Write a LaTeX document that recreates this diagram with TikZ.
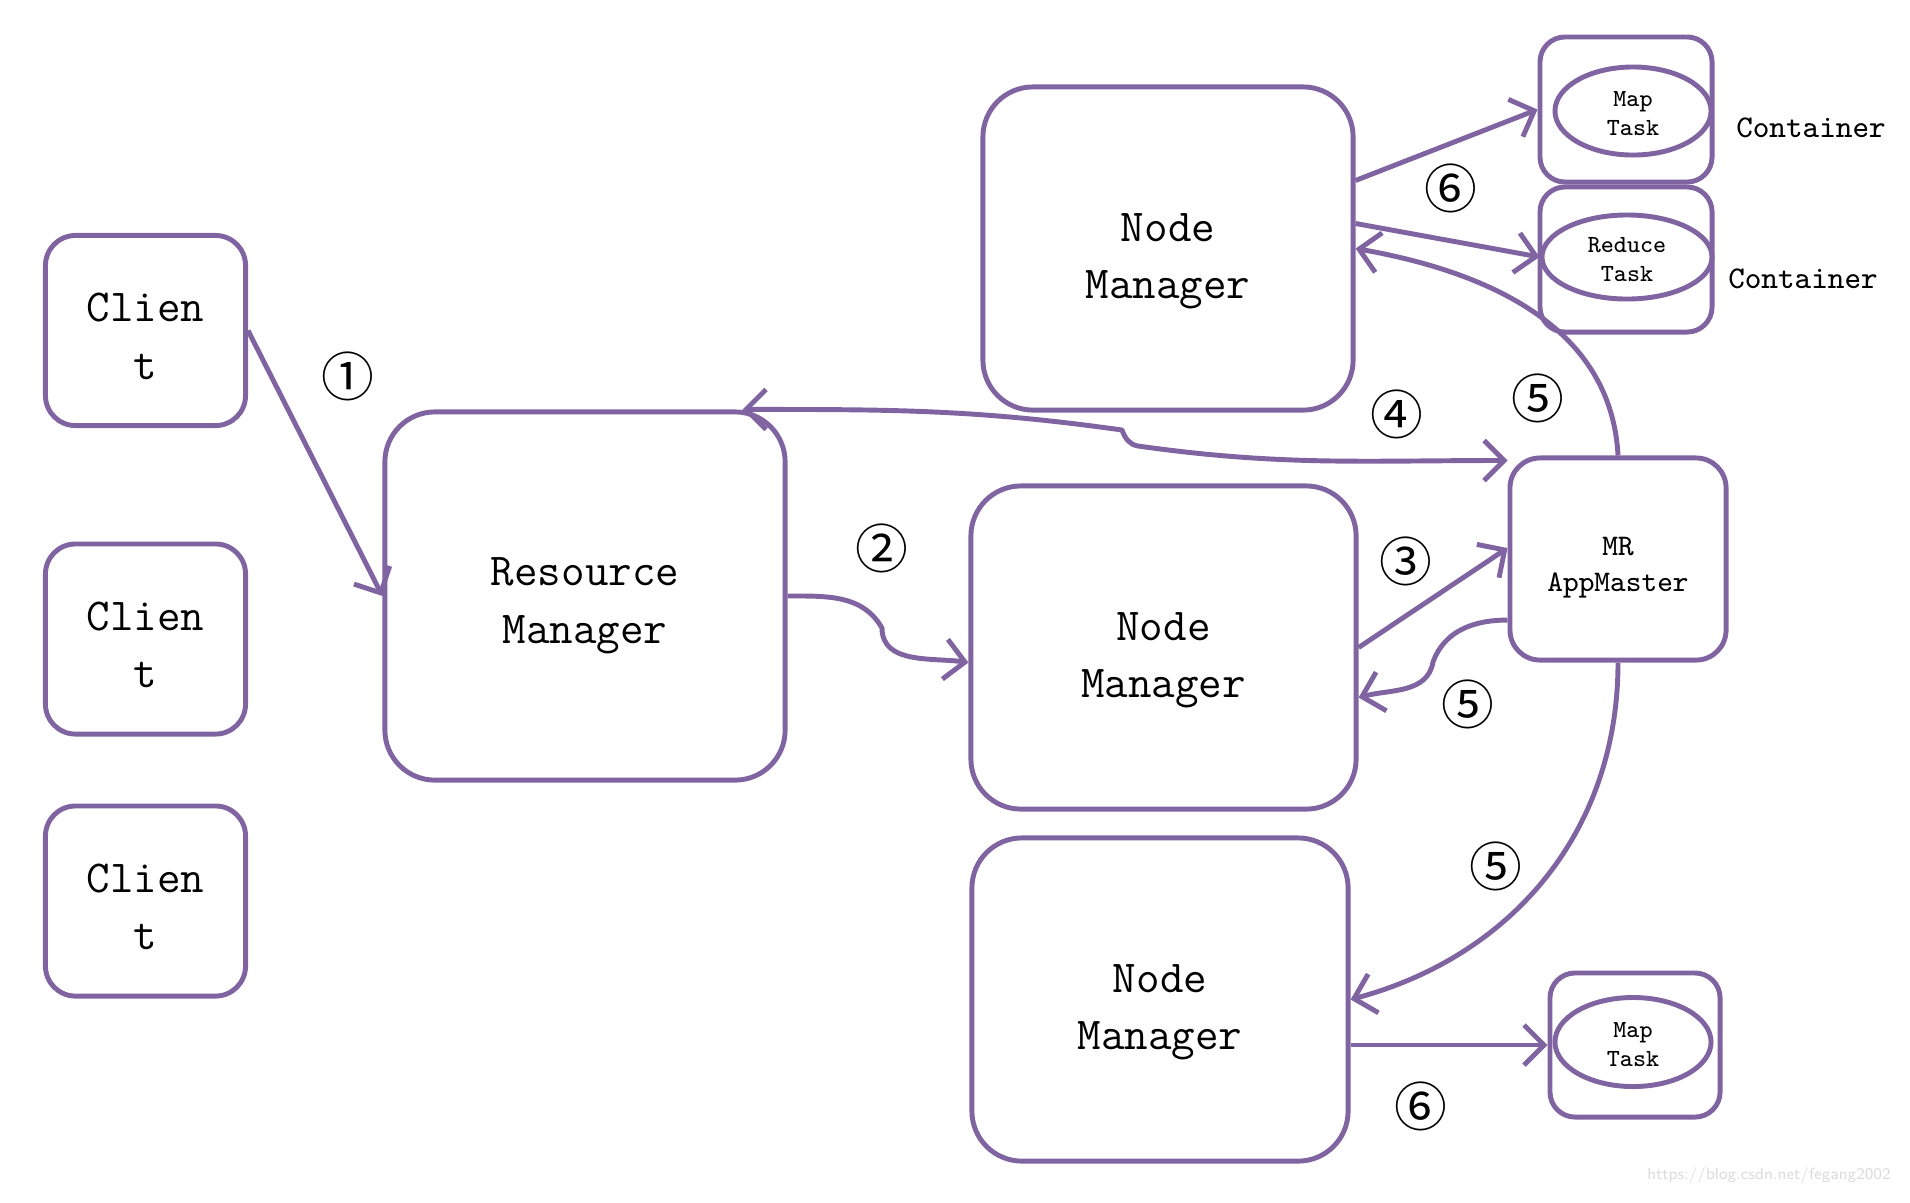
\documentclass[tikz,border=0pt]{standalone}
\usepackage{fontspec}
\usetikzlibrary{arrows.meta,shapes.geometric}
\newfontfamily\circfont{Noto Sans CJK SC}
\definecolor{yarn}{RGB}{128,100,162}
\def\boxtext#1#2{\raisebox{-#1}[\height][\depth]{\begin{tabular}{@{}c@{}}#2\end{tabular}}}
\tikzset{
	box/.style={draw=yarn, line width=1.4pt, rounded corners=0.5cm, align=center, text=black,
		font=\ttfamily\fontsize{13}{16.4}\selectfont},
	client/.style={box, minimum width=2.0cm, minimum height=1.9cm, rounded corners=0.3cm},
	master/.style={box, minimum width=2.16cm, minimum height=2.02cm, rounded corners=0.3cm,
		font=\ttfamily\fontsize{8.5}{10.4}\selectfont},
	cont/.style={draw=yarn, line width=1.4pt, rounded corners=0.25cm, minimum width=1.72cm, minimum height=1.45cm},
	task/.style={draw=yarn, line width=1.4pt, ellipse, inner sep=0pt, align=center,
		font=\ttfamily\fontsize{7}{8.3}\selectfont},
	lbl/.style={font=\ttfamily\fontsize{9}{10}\selectfont},
	num/.style={font=\circfont\fontsize{15}{15}\selectfont, inner sep=0pt},
	link/.style={draw=yarn, line width=1.4pt, line join=round, -{Straight Barb[length=2mm,width=4mm]}},
	dlink/.style={link, {Straight Barb[length=2mm,width=4mm]}-{Straight Barb[length=2mm,width=4mm]}}
}

\begin{document}
\begin{tikzpicture}[x=0.01cm, y=0.01cm]
		%%%%% START %%%%%
		\useasboundingbox (0,0) rectangle (1910,-1202);
		
		\node[client] (cl1) at (145.5,-330.5) {\boxtext{0.085cm}{Clien\\t}};
		\node[client] (cl2) at (145.5,-639) {\boxtext{0.085cm}{Clien\\t}};
		\node[client] (cl3) at (145.5,-901) {\boxtext{0.085cm}{Clien\\t}};
		
		\node[box, minimum width=4.0cm, minimum height=3.68cm] (rm) at (585,-596) {\boxtext{0.07cm}{Resource\\Manager}};
		
		\node[box, minimum width=3.7cm, minimum height=3.23cm] (nm1) at (1168,-248.5) {\boxtext{0.1cm}{Node\\Manager}};
		\node[box, minimum width=3.85cm, minimum height=3.23cm] (nm2) at (1163.5,-647.5) {\boxtext{0.1cm}{Node\\Manager}};
		\node[box, minimum width=3.76cm, minimum height=3.23cm] (nm3) at (1160,-999.5) {\boxtext{0.1cm}{Node\\Manager}};
		
		\node[master] (am) at (1618,-559) {\boxtext{0.07cm}{MR\\AppMaster}};
		
		\node[cont] (ct1) at (1626,-109.5) {};
		\node[cont] (ct2) at (1626,-259.5) {};
		\node[cont, minimum width=1.70cm, minimum height=1.44cm] (ct3) at (1635,-1045) {};
		\node[task, minimum width=1.56cm, minimum height=0.88cm] (t1) at (1633,-111) {\boxtext{0.04cm}{Map\\Task}};
		\node[task, minimum width=1.70cm, minimum height=0.84cm] (t2) at (1627,-257) {\boxtext{0.04cm}{Reduce\\Task}};
		\node[task, minimum width=1.56cm, minimum height=0.89cm] (t3) at (1633,-1042) {\boxtext{0.04cm}{Map\\Task}};
		
		\node[lbl] (lb1) at (1811,-128) {Container};
		\node[lbl] (lb2) at (1803,-279) {Container};
		
		% steps
		\node[num] (s1) at (348,-376) {①};
		\node[num] (s2) at (882,-548) {②};
		\node[num] (s3) at (1406,-561) {③};
		\node[num] (s4) at (1397,-414) {④};
		\node[num] (s5a) at (1538,-398) {⑤};
		\node[num] (s5b) at (1468,-704) {⑤};
		\node[num] (s5c) at (1496,-866) {⑤};
		\node[num] (s6a) at (1451,-188) {⑥};
		\node[num] (s6b) at (1421,-1106) {⑥};
		
		% connectors
		\draw[link] (cl1.east) -- (rm.west);
		\draw[link] (rm.east) to[out=0,in=120] (882,-628) to[out=-90,in=172] ([yshift=-0.15cm]nm2.west);
		\draw[link] (nm2.east) -- ([yshift=0.11cm]am.west);
		\draw[dlink] ([xshift=-0.45cm]rm.north east) to[out=0,in=172] (1122,-430) to[out=-70,in=170] (1138,-446) to[out=-8,in=180] ([yshift=-0.05cm]am.north west);
		\draw[link] (am.north) to[out=93,in=-10] (nm1.east);
		\draw[link] ([yshift=-0.61cm]am.west) to[out=180,in=70] (1433,-662) to[out=-100,in=15] ([yshift=-0.5cm]nm2.east);
		\draw[link] (am.south) to[out=-90,in=15] (nm3.east);
		\draw[link] ([yshift=0.68cm]nm1.east) -- (ct1.west);
		\draw[link] ([yshift=0.25cm]nm1.east) -- (t2.west);
		\draw[link] (nm3.east |- ct3.west) -- (ct3.west);
		
		\node[anchor=south east, font=\sffamily\fontsize{4.6}{5}\selectfont, text=black!14] (wm) at (1903,-1196) {https://blog.csdn.net/fegang2002};
		%%%%% END %%%%%
\end{tikzpicture}
\end{document}
